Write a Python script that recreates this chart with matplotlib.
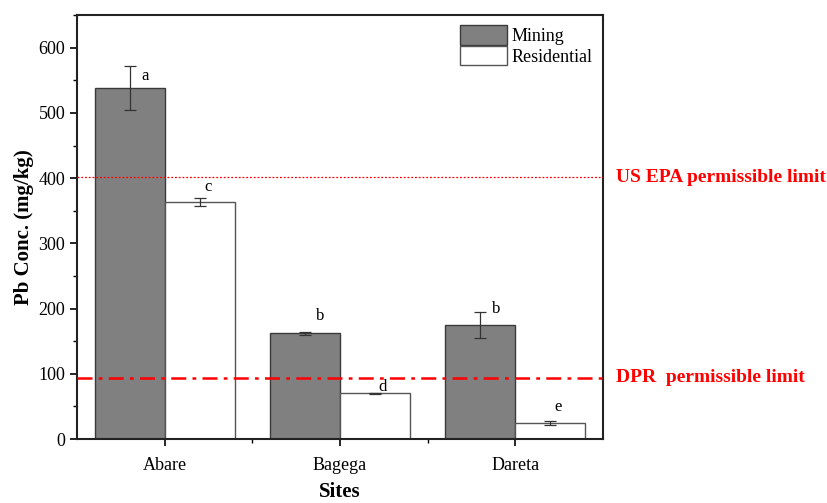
import matplotlib
matplotlib.use("Agg")
import matplotlib.pyplot as plt
import numpy as np
from matplotlib.ticker import MultipleLocator, FixedLocator

plt.rcParams['font.family'] = ['Liberation Serif', 'DejaVu Serif']

sites = ["Abare", "Bagega", "Dareta"]
mining = [538, 162, 175]
mining_err = [34, 2, 20]
residential = [364, 70, 25]
residential_err = [6, 1, 3]
mining_letters = ["a", "b", "b"]
residential_letters = ["c", "d", "e"]
mining_letter_y = [557, 188, 200]
residential_letter_y = [386, 80, 49]
us_epa_limit = 401
dpr_limit = 94

fig = plt.figure(figsize=(8.27, 5.03), dpi=100)
ax = fig.add_axes([0.0931, 0.1272, 0.729 - 0.0931, 0.970 - 0.1272])

x = np.arange(len(sites))
w = 0.4
ax.bar(x - w, mining, width=w, align='edge', color='#808080', edgecolor='#3a3a3a',
       linewidth=1.0, label='Mining', zorder=2)
ax.bar(x, residential, width=w, align='edge', color='white', edgecolor='#555555',
       linewidth=1.0, label='Residential', zorder=2)
ax.errorbar(x - w / 2, mining, yerr=mining_err, fmt='none', ecolor='#333333',
            elinewidth=0.9, capsize=4, capthick=0.9, zorder=3)
ax.errorbar(x + w / 2, residential, yerr=residential_err, fmt='none', ecolor='#333333',
            elinewidth=0.9, capsize=4, capthick=0.9, zorder=3)

for i in range(len(sites)):
    ax.text(x[i] - 0.11, mining_letter_y[i], mining_letters[i],
            ha='center', va='center', fontsize=12)
    ax.text(x[i] + 0.245, residential_letter_y[i], residential_letters[i],
            ha='center', va='center', fontsize=12)

ax.axhline(us_epa_limit, color='red', linestyle=(0, (1.5, 1.5)), linewidth=0.9, zorder=4)
ax.axhline(dpr_limit, color='red', linestyle=(0, (6, 2.5, 1.5, 2.5)), linewidth=1.8, zorder=4)

ax.text(1.025, us_epa_limit, "US EPA permissible limit", transform=ax.get_yaxis_transform(),
        color='red', fontsize=14, fontweight='bold', ha='left', va='center', clip_on=False)
ax.text(1.025, dpr_limit, "DPR  permissible limit", transform=ax.get_yaxis_transform(),
        color='red', fontsize=14, fontweight='bold', ha='left', va='center', clip_on=False)

ax.set_xlim(-0.5, 2.5)
ax.set_ylim(0, 650)
ax.set_xticks(x)
ax.set_xticklabels(sites, fontsize=13)
ax.xaxis.set_minor_locator(FixedLocator([0.5, 1.5]))
ax.yaxis.set_major_locator(MultipleLocator(100))
ax.yaxis.set_minor_locator(MultipleLocator(50))
ax.tick_params(axis='y', labelsize=13)
ax.tick_params(axis='x', pad=8)
ax.tick_params(which='major', direction='out', length=5, width=1.2)
ax.tick_params(which='minor', direction='out', length=3, width=1.0)
for s in ax.spines.values():
    s.set_linewidth(1.5)
    s.set_color('#222222')

ax.set_ylabel("Pb Conc. (mg/kg)", fontsize=15, fontweight='bold', labelpad=3)
ax.set_xlabel("Sites", fontsize=15, fontweight='bold', labelpad=6)

ax.legend(loc='upper right', frameon=False, fontsize=13, handlelength=2.6, handleheight=1.3,
          borderaxespad=0.15, labelspacing=0.05, handletextpad=0.3)

fig.savefig("out.png", dpi=100)
